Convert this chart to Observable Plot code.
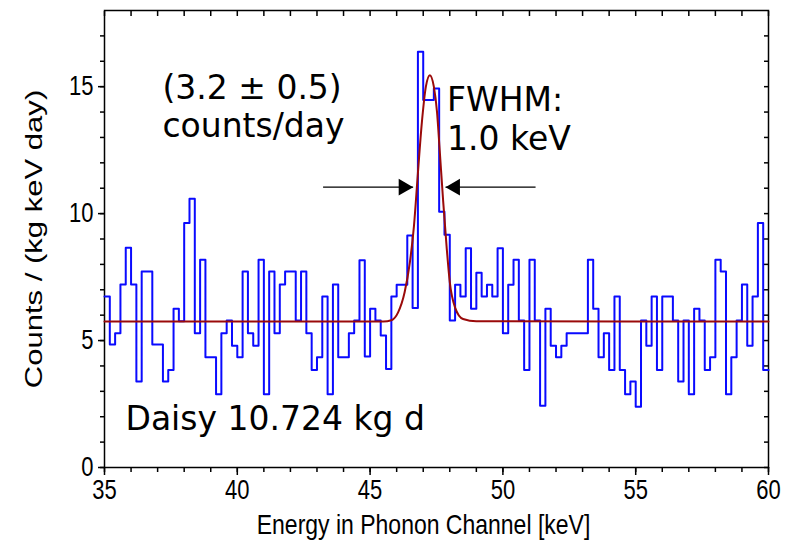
<!DOCTYPE html>
<html><head><meta charset="utf-8">
<script src="https://cdn.jsdelivr.net/npm/d3@7"></script>
<script src="https://cdn.jsdelivr.net/npm/@observablehq/plot@0.6"></script>
<style>
html,body{margin:0;padding:0;background:#fff;}
</style></head><body><div id="chart"></div>
<script>
// ---- data ----
const energyStart = 35;      // keV, lower edge of first bin
const binWidth = 0.2;        // keV
const rates = [
  6.74, 4.84, 5.29, 7.21, 8.66, 7.21, 3.39, 7.72, 7.72, 4.84,
  4.84, 3.39, 3.84, 6.25, 5.76, 9.63, 10.59, 5.29, 8.18, 4.34,
  4.34, 2.89, 5.29, 5.79, 4.80, 4.34, 7.72, 5.29, 4.80, 8.18,
  2.89, 7.72, 5.29, 7.21, 7.72, 7.72, 5.79, 7.72, 5.29, 3.84,
  4.34, 6.74, 2.89, 7.21, 4.34, 4.34, 5.29, 5.79, 8.16, 4.37,
  6.25, 5.79, 5.20, 3.88, 6.74, 7.20, 7.20, 9.14, 6.28, 16.38,
  14.47, 14.47, 14.93, 10.07, 9.17, 5.79, 7.20, 6.74, 8.64, 6.25,
  7.67, 6.74, 7.20, 6.74, 8.64, 5.29, 7.20, 8.18, 5.79, 3.84,
  8.18, 5.79, 2.43, 6.25, 4.80, 4.34, 4.80, 5.29, 5.29, 5.29,
  5.29, 8.18, 6.25, 4.34, 5.29, 3.84, 6.74, 3.84, 2.89, 3.39,
  2.39, 5.79, 4.80, 6.74, 3.84, 6.74, 6.74, 5.79, 3.39, 5.79,
  2.89, 6.25, 5.79, 3.84, 4.34, 8.18, 7.72, 2.89, 4.34, 5.79,
  7.21, 4.80, 6.74, 9.63, 3.84
];
const fitEnergy = [35, 45.5, 45.8, 46.05, 46.3, 46.5, 46.65, 46.8, 46.95, 47.1, 47.25, 47.4, 47.52, 47.62, 47.75, 47.88, 48.0, 48.2, 48.5, 49.0, 60];
const fitRate   = [5.75, 5.75, 5.8, 6.1, 6.9, 8.1, 9.5, 11.6, 13.6, 15.0, 15.45, 15.0, 14.0, 12.5, 10.5, 8.7, 7.3, 6.3, 5.85, 5.76, 5.75];
const xTicks = [35, 40, 45, 50, 55, 60];
const yTicks = [0, 5, 10, 15];
const xMinorTicks = d3.range(35, 61, 1);
const yMinorTicks = d3.range(0, 18, 1);
const xTitle = "Energy in Phonon Channel [keV]";
const yTitle = "Counts / (kg keV day)";
const notes = [
  {text: "(3.2 ± 0.5)", e: 37.18, r: 14.53},
  {text: "counts/day", e: 37.18, r: 13.0},
  {text: "FWHM:", e: 47.9, r: 14.06},
  {text: "1.0 keV", e: 47.9, r: 12.52},
  {text: "Daisy 10.724 kg d", e: 35.79, r: 1.46}
];
const arrowRight = [{from: 43.23, to: 46.62, r: 11.04}];
const arrowLeft = [{from: 51.23, to: 47.84, r: 11.04}];

// ---- build tables ----
const hist = rates.map((v, i) => ({e: energyStart + i * binWidth, v}));
hist.push({e: energyStart + rates.length * binWidth, v: rates[rates.length - 1]});
const fit = fitEnergy.map((e, i) => ({e, v: fitRate[i]}));

const axisFont = "'Liberation Sans', Arial, Helvetica, sans-serif";
const noteFont = "'DejaVu Sans', Verdana, sans-serif";

const chart = Plot.plot({
  width: 796,
  height: 549,
  marginLeft: 104,
  marginRight: 28,
  marginTop: 10,
  marginBottom: 82,
  style: {fontFamily: axisFont, fontSize: "22px", background: "#fff", color: "#000", overflow: "visible"},
  x: {domain: [35, 60], label: null},
  y: {domain: [0, 18], label: null},
  marks: [
    Plot.axisX(xMinorTicks, {anchor: "bottom", tickSize: 5, tickFormat: () => "", strokeWidth: 1.5, label: null}),
    Plot.axisX(xTicks, {anchor: "bottom", tickSize: 8, tickPadding: 4, strokeWidth: 1.5, fontSize: 22, label: null, className: "xtl"}),
    Plot.axisX(xMinorTicks, {anchor: "top", tickSize: 5, dy: 5, tickFormat: () => "", strokeWidth: 1.5, label: null}),
    Plot.axisY(yMinorTicks, {anchor: "left", tickSize: 4, tickFormat: () => "", strokeWidth: 1.5, label: null}),
    Plot.axisY(yTicks, {anchor: "left", tickSize: 6, tickPadding: 5, strokeWidth: 1.5, fontSize: 22, label: null, className: "ytl"}),
    Plot.axisY(yMinorTicks, {anchor: "right", tickSize: 5, dx: -5, tickFormat: () => "", strokeWidth: 1.5, label: null}),
    Plot.frame({stroke: "#000", strokeWidth: 1.5}),
    Plot.lineY(hist, {x: "e", y: "v", curve: "step-after", stroke: "#0a0aff", strokeWidth: 2}),
    Plot.line(fit, {x: "e", y: "v", curve: "monotone-x", stroke: "#9a0a0a", strokeWidth: 2}),
    Plot.text(notes, {x: "e", y: "r", text: "text", textAnchor: "start", lineAnchor: "bottom", fontSize: 33, fontFamily: noteFont, fill: "#000"}),
    Plot.link(arrowRight, {x1: "from", x2: "to", y1: "r", y2: "r", stroke: "#000", strokeWidth: 1.3}),
    Plot.link(arrowLeft, {x1: "from", x2: "to", y1: "r", y2: "r", stroke: "#000", strokeWidth: 1.3}),
    Plot.dot(arrowRight, {x: "to", y: "r", symbol: "triangle", r: 6.2, fill: "#000", stroke: "none", rotate: 90, dx: -9.6}),
    Plot.dot(arrowLeft, {x: "to", y: "r", symbol: "triangle", r: 6.2, fill: "#000", stroke: "none", rotate: -90, dx: 9.6}),
    Plot.text([xTitle], {frameAnchor: "bottom", dy: 66, dx: -13, fontSize: 23, fill: "#000", className: "xtitle"}),
    Plot.text([yTitle], {frameAnchor: "left", textAnchor: "middle", rotate: -90, dx: -70, fontSize: 23, fill: "#000", className: "ytitle"})
  ]
});
// the source figure was stretched vertically: emulate that on the axis texts
const svg = d3.select(chart);
svg.selectAll(".ytitle text").attr("transform", function() {
  return d3.select(this).attr("transform") + " scale(1.35,1)";
});
svg.selectAll(".xtitle text, .xtl text, .ytl text").attr("transform", function() {
  return (d3.select(this).attr("transform") || "") + " scale(1,1.22)";
});
document.getElementById("chart").appendChild(chart);
</script>
</body></html>
